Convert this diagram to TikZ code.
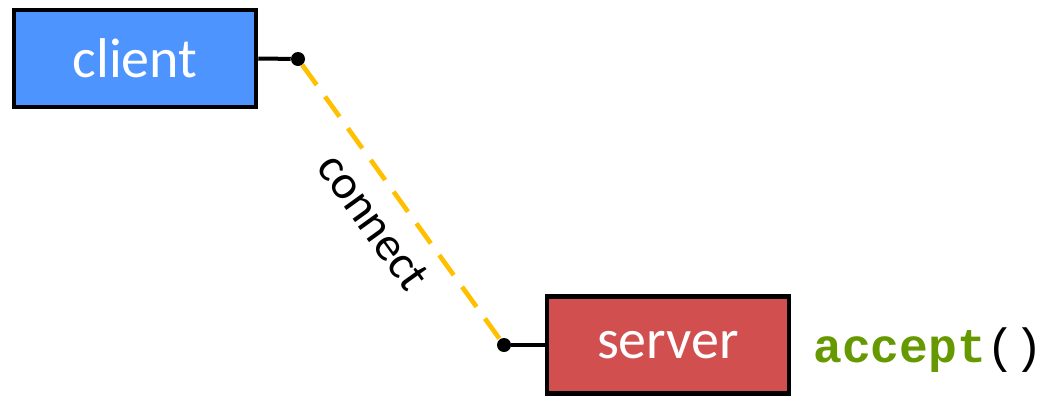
\documentclass[tikz,border=0pt]{standalone}
\usepackage{fontspec}
\setmainfont{Carlito}
\newfontfamily\codefont{Liberation Mono}
\definecolor{clientblue}{RGB}{77,148,255}
\definecolor{serverred}{RGB}{210,79,79}
\definecolor{linkyellow}{RGB}{255,192,0}
\definecolor{codegreen}{RGB}{102,153,0}
\tikzset{
	hostbox/.style={draw=black, line width=3.4pt, rectangle, inner sep=0pt,
		minimum width=181.5pt, minimum height=72.75pt, text=white,
		font=\fontsize{42}{42}\selectfont},
	portdot/.style={circle, fill=black, inner sep=0pt, minimum size=10.5pt},
	stub/.style={line width=3pt},
	linkline/.style={linkyellow, line width=3.5pt, dash pattern=on 18.5pt off 10.8pt}
}
\begin{document}
\begin{tikzpicture}[x=0.75pt, y=-0.75pt]
		\useasboundingbox (0, 0) rectangle (1051, 397);

		\node[hostbox, fill=clientblue] (client) at(135, 58.5){client};
			\node[portdot] (cdot) at(298, 59){};
			\draw[stub] (client.east) to (cdot);

		\node[hostbox, fill=serverred] (server) at(668, 345){server};
			\node[portdot] (sdot) at(504, 345){};
			\draw[stub] (sdot) to (server.west);

		%%%%%%%%%%%%%%%%%%%%%%%%%%%%
		\draw[linkline] (cdot) to node[sloped, below=9pt, text=black, font=\fontsize{36}{36}\selectfont]{connect} (sdot);

		\node[anchor=base west, inner sep=0pt, font=\codefont\fontsize{36}{36}\selectfont] (accept) at(813, 362)
			{\textcolor{codegreen}{\textbf{accept}}()};
\end{tikzpicture}
\end{document}
